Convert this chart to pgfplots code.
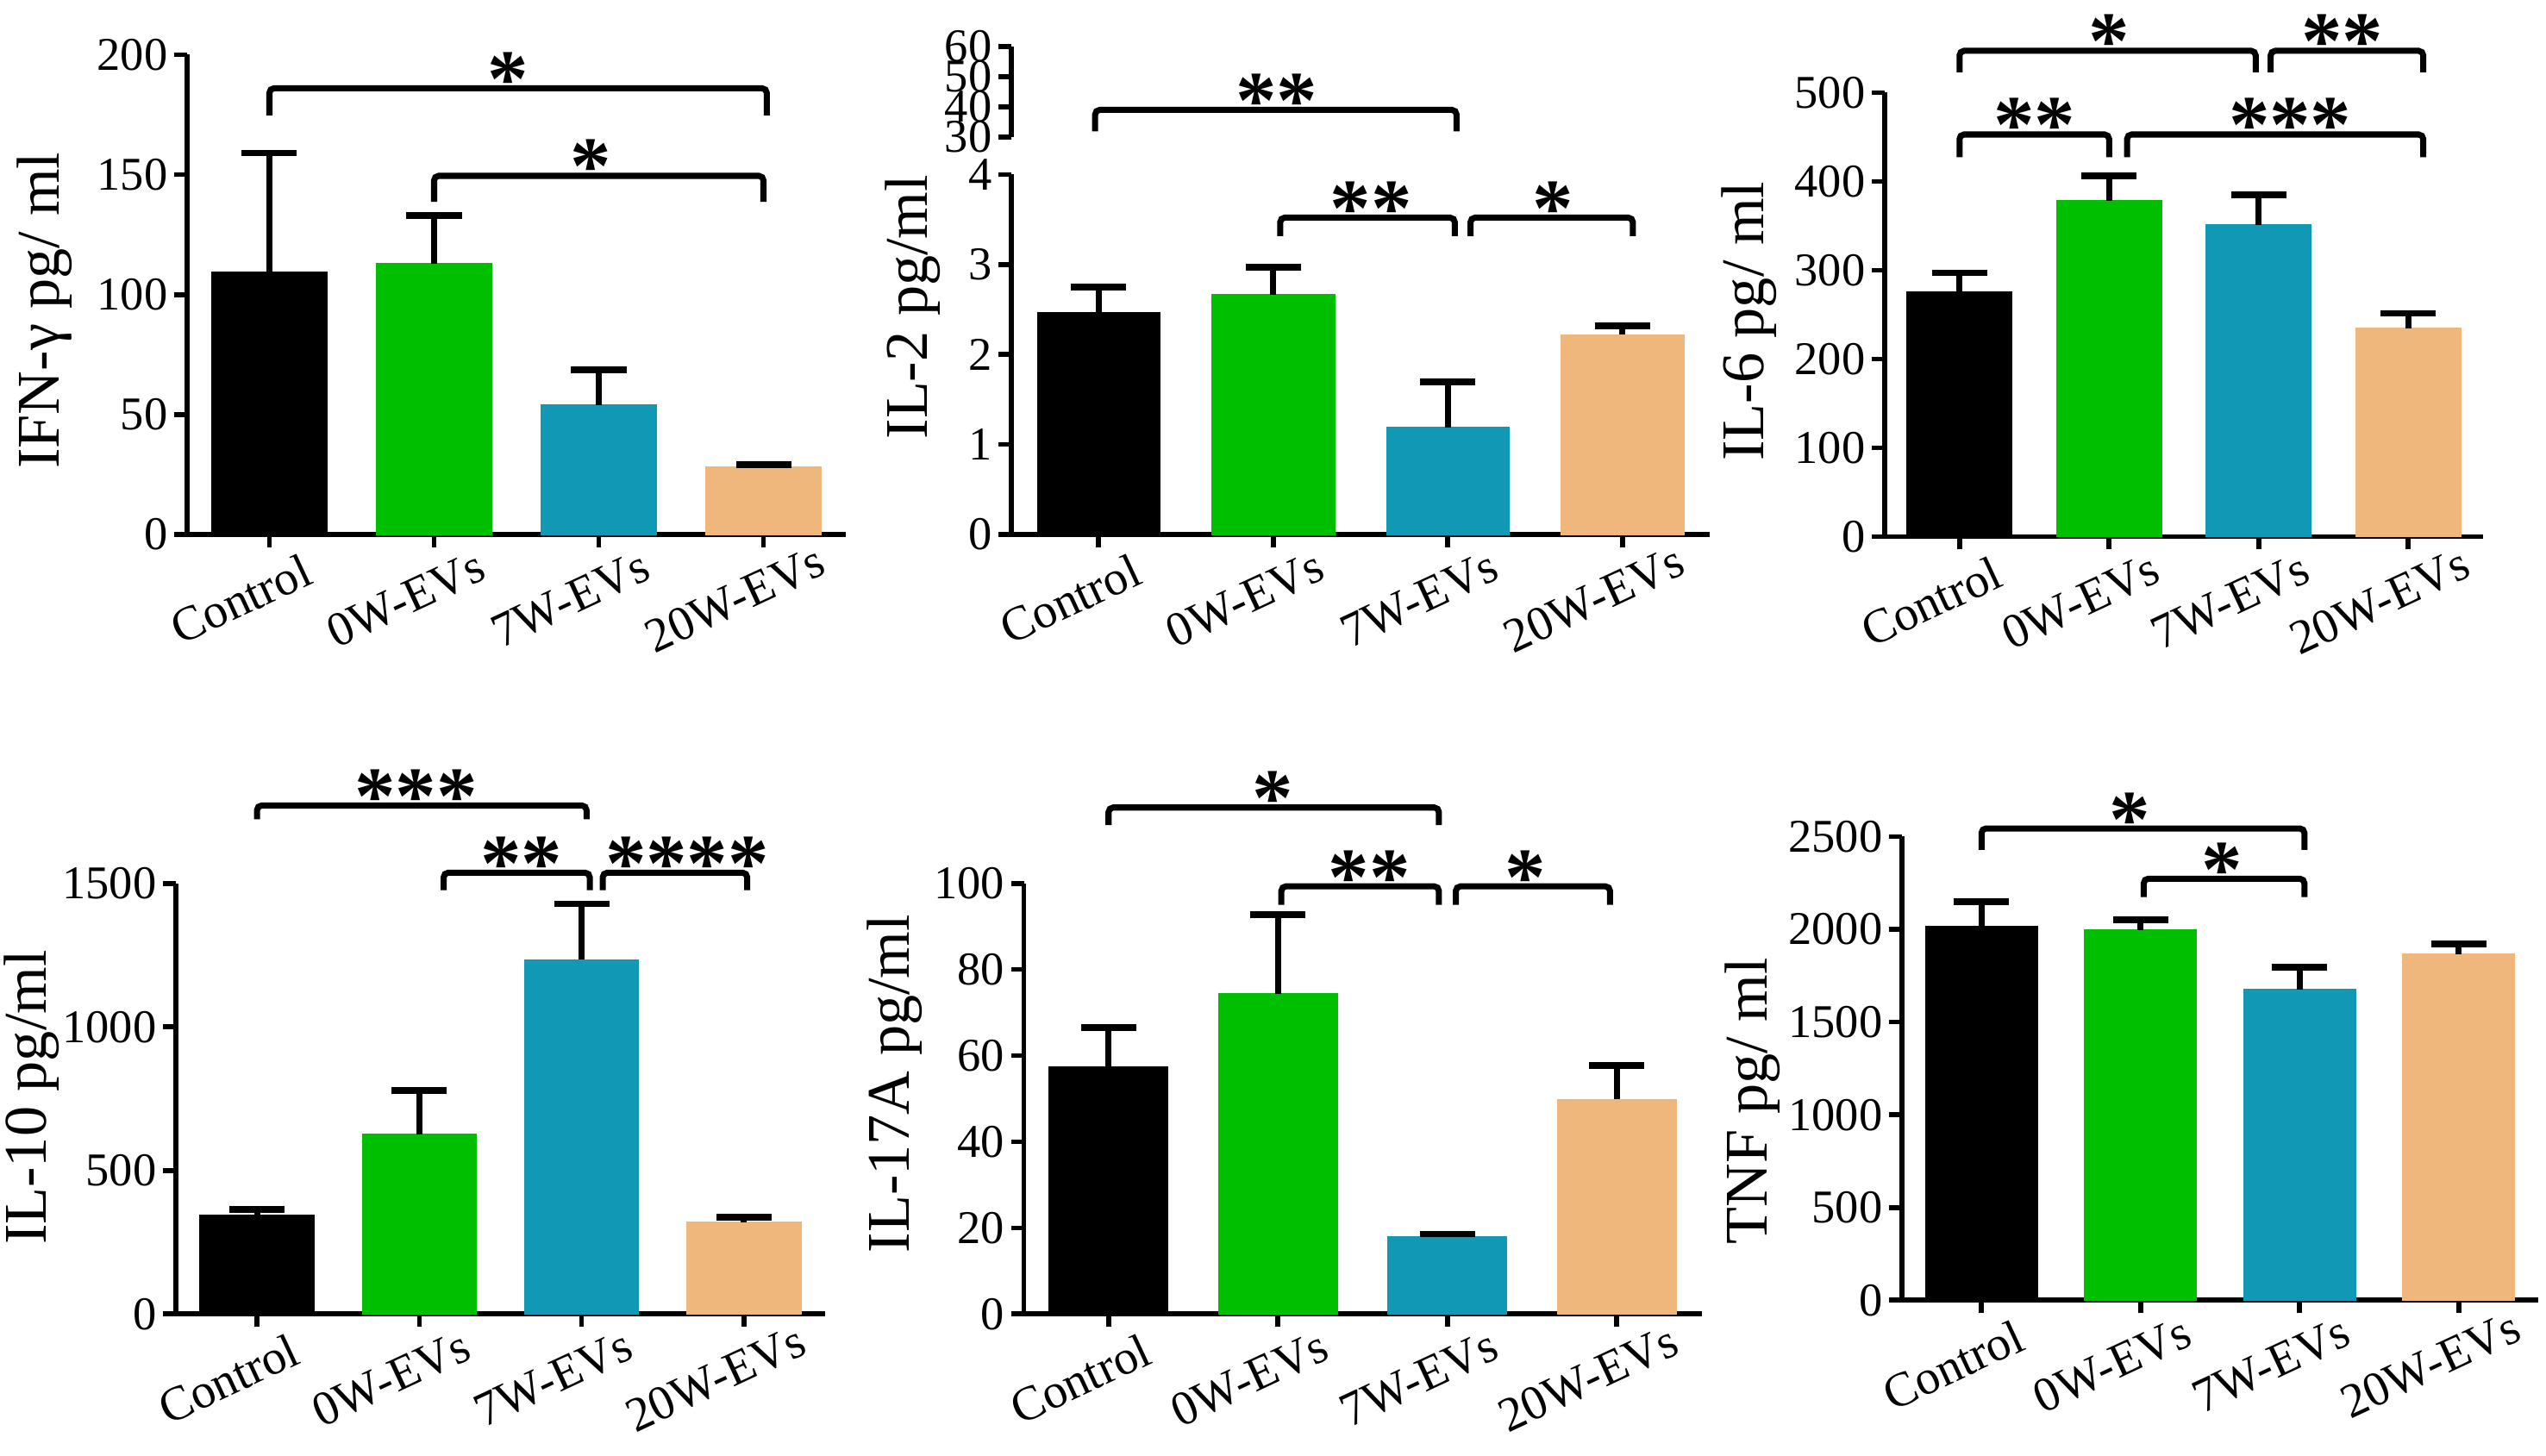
\documentclass[border=0pt]{standalone}
\usepackage{fontspec}
\setmainfont{Liberation Serif}
\usepackage{pgfplots}
\pgfplotsset{compat=1.18}
\definecolor{cK}{RGB}{0,0,0}
\definecolor{cG}{RGB}{0,190,0}
\definecolor{cT}{RGB}{17,152,180}
\definecolor{cP}{RGB}{240,183,125}
\pgfplotsset{
 panel/.style={
  scale only axis, anchor=south west, clip=false,
  xmin=-0.5, xmax=3.5, ymin=0,
  axis x line*=bottom, axis y line*=left,
  axis line style={line width=1.6pt},
  every tick/.style={line width=1.6pt, black},
  major tick length=0.15cm,
  tick align=outside,
  xtick={0,1,2,3},
  xticklabels={Control,0W-EVs,7W-EVs,20W-EVs},
  xticklabel style={font=\fontsize{16}{16}\selectfont, anchor=center, xshift=-0.33cm, yshift=-0.6cm, rotate=25},
  yticklabel style={font=\fontsize{15.5}{15.5}\selectfont, inner sep=2pt},
  ylabel style={font=\fontsize{20}{20}\selectfont},
  /pgf/number format/assume math mode=true,
  /pgf/number format/1000 sep={},
  scaled y ticks=false,
  ybar, bar width=0.7,
 },
 mybar/.style={fill=#1, draw=#1, bar shift=0pt, line width=0.5pt,
  error bars/y dir=plus, error bars/y explicit,
  error bars/error bar style={line width=2pt, black, solid},
  error bars/error mark options={line width=2.2pt, mark size=0.32cm, black, solid, rotate=90}},
 ylab/.style 2 args={ylabel style={at={(axis description cs:#1,#2)}, anchor=center}},
}
\newcommand\brk[6]{%
 \draw[line width=2pt, rounded corners=1.5pt] (axis cs:#1,#4) -- (axis cs:#1,#3) -- (axis cs:#2,#3) -- (axis cs:#2,#4);
 \node[anchor=base, inner sep=0pt, font=\bfseries\fontsize{27}{27}\selectfont, yshift=-0.21cm] at (axis cs:#5,#3) {#6};
}
\begin{document}
\begin{tikzpicture}
\path[use as bounding box] (0,0) rectangle (29.53,16.89);
% ---------- IFN-gamma
\begin{scope}[shift={(2.17cm,10.69cm)}]
\begin{axis}[panel, at={(0cm,0cm)}, width=7.64cm, height=5.565cm,
  ymax=200, ytick={0,50,100,150,200}, ylabel={IFN-γ pg/ ml}, ylab={-0.217}{0.467}]
\addplot[mybar=cK] coordinates {(0,109.3) +- (0,49.7)};
\addplot[mybar=cG] coordinates {(1,112.8) +- (0,20.2)};
\addplot[mybar=cT] coordinates {(2,53.9) +- (0,14.7)};
\addplot[mybar=cP] coordinates {(3,28.2) +- (0,1.0)};
\brk{0}{3.02}{186.0}{174.7}{1.45}{*}
\brk{1}{3}{149.5}{138.7}{1.95}{*}
\end{axis}
\end{scope}
% ---------- IL-2 (lower)
\begin{scope}[shift={(11.73cm,10.69cm)}]
\begin{axis}[panel, at={(0cm,0cm)}, width=8.10cm, height=4.175cm,
  ymax=4, ytick={0,1,2,3,4}, ylabel={IL-2 pg/ml}, ylab={-0.141}{0.632}]
\addplot[mybar=cK] coordinates {(0,2.467) +- (0,0.28)};
\addplot[mybar=cG] coordinates {(1,2.668) +- (0,0.30)};
\addplot[mybar=cT] coordinates {(2,1.188) +- (0,0.51)};
\addplot[mybar=cP] coordinates {(3,2.218) +- (0,0.10)};
\brk{1.04}{2.04}{3.521}{3.315}{1.56}{**}
\brk{2.13}{3.06}{3.521}{3.315}{2.6}{*}
\end{axis}
\end{scope}
% ---------- IL-2 (upper)
\begin{scope}[shift={(11.73cm,15.30cm)}]
\begin{axis}[scale only axis, anchor=south west, clip=false, at={(0cm,0cm)}, width=8.10cm, height=1.05cm,
  xmin=-0.5, xmax=3.5, ymin=30, ymax=60, ytick={30,40,50,60},
  axis y line*=left, axis x line=none,
  axis line style={line width=1.6pt},
  every tick/.style={line width=1.6pt, black},
  major tick length=0.15cm, tick align=outside,
  yticklabel style={font=\fontsize{15.5}{15.5}\selectfont, inner sep=2pt},
  /pgf/number format/assume math mode=true]
\brk{-0.02}{2.05}{39.0}{31.9}{1.02}{**}
\end{axis}
\end{scope}
% ---------- IL-6
\begin{scope}[shift={(21.86cm,10.665cm)}]
\begin{axis}[panel, at={(0cm,0cm)}, width=6.94cm, height=5.15cm,
  ymax=500, ytick={0,100,200,300,400,500}, ylabel={IL-6 pg/ ml}, ylab={-0.226}{0.485}]
\addplot[mybar=cK] coordinates {(0,275.2) +- (0,21.9)};
\addplot[mybar=cG] coordinates {(1,378.2) +- (0,28.1)};
\addplot[mybar=cT] coordinates {(2,351.0) +- (0,34.0)};
\addplot[mybar=cP] coordinates {(3,234.5) +- (0,17.0)};
\brk{0}{1.98}{547.1}{522.8}{1.0}{*}
\brk{2.08}{3.1}{547.1}{522.8}{2.56}{**}
\brk{0}{1.0}{452.9}{427.2}{0.5}{**}
\brk{1.12}{3.1}{452.9}{427.2}{2.21}{***}
\end{axis}
\end{scope}
% ---------- IL-10
\begin{scope}[shift={(2.04cm,1.647cm)}]
\begin{axis}[panel, at={(0cm,0cm)}, width=7.53cm, height=4.996cm,
  ymax=1500, ytick={0,500,1000,1500}, ylabel={IL-10 pg/ml}, ylab={-0.222}{0.503}]
\addplot[mybar=cK] coordinates {(0,343) +- (0,21)};
\addplot[mybar=cG] coordinates {(1,625.5) +- (0,153)};
\addplot[mybar=cT] coordinates {(2,1233.5) +- (0,195)};
\addplot[mybar=cP] coordinates {(3,319) +- (0,19)};
\brk{0}{2.03}{1771}{1723}{0.98}{***}
\brk{1.15}{2.05}{1537}{1476}{1.63}{**}
\brk{2.13}{3.02}{1537}{1476}{2.65}{****}
\end{axis}
\end{scope}
% ---------- IL-17A
\begin{scope}[shift={(11.875cm,1.647cm)}]
\begin{axis}[panel, at={(0cm,0cm)}, width=7.86cm, height=4.996cm,
  ymax=100, ytick={0,20,40,60,80,100}, ylabel={IL-17A pg/ml}, ylab={-0.191}{0.535}]
\addplot[mybar=cK] coordinates {(0,57.4) +- (0,9.1)};
\addplot[mybar=cG] coordinates {(1,74.3) +- (0,18.5)};
\addplot[mybar=cT] coordinates {(2,17.8) +- (0,0.8)};
\addplot[mybar=cP] coordinates {(3,49.8) +- (0,7.9)};
\brk{0}{1.95}{117.6}{113.5}{0.97}{*}
\brk{1.02}{1.95}{99.3}{95.0}{1.54}{**}
\brk{2.05}{2.96}{99.3}{95.0}{2.46}{*}
\end{axis}
\end{scope}
% ---------- TNF
\begin{scope}[shift={(22.06cm,1.807cm)}]
\begin{axis}[panel, at={(0cm,0cm)}, width=7.38cm, height=5.378cm,
  ymax=2500, ytick={0,500,1000,1500,2000,2500}, ylabel={TNF pg/ ml}, ylab={-0.235}{0.43}]
\addplot[mybar=cK] coordinates {(0,2013) +- (0,136)};
\addplot[mybar=cG] coordinates {(1,1996) +- (0,54)};
\addplot[mybar=cT] coordinates {(2,1677) +- (0,119)};
\addplot[mybar=cP] coordinates {(3,1865) +- (0,57)};
\brk{0}{2.03}{2544}{2428}{0.93}{*}
\brk{1.02}{2.03}{2273}{2174}{1.51}{*}
\end{axis}
\end{scope}
\end{tikzpicture}
\end{document}
